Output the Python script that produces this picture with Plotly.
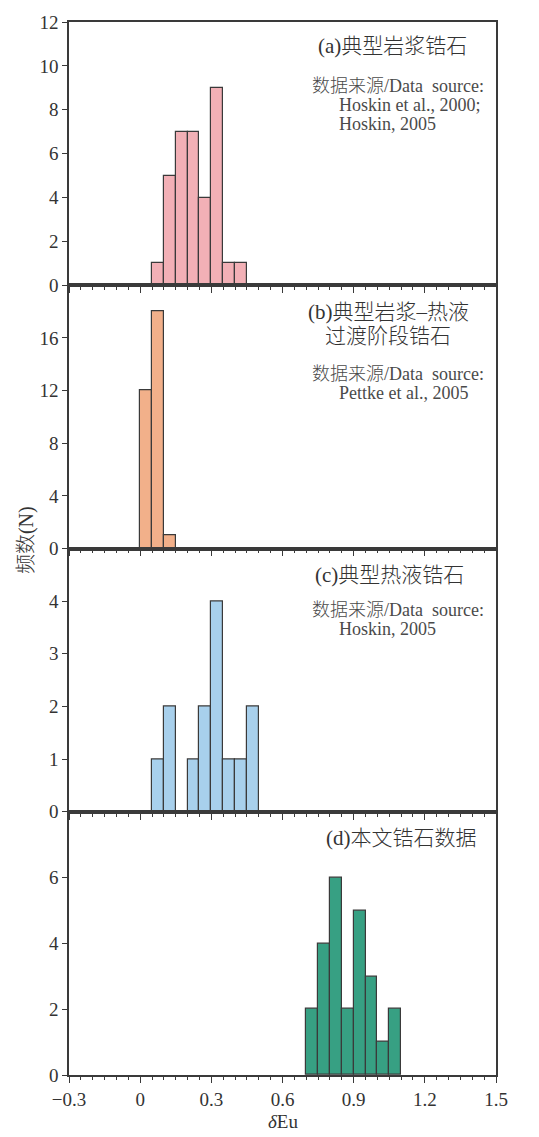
import plotly.graph_objects as go
from plotly.subplots import make_subplots

# δEu histogram bins (left edges) and counts for each zircon group
BIN_WIDTH = 0.05

bins_a = [0.05, 0.10, 0.15, 0.20, 0.25, 0.30, 0.35, 0.40]
counts_a = [1, 5, 7, 7, 4, 9, 1, 1]

bins_b = [0.00, 0.05, 0.10]
counts_b = [12, 18, 1]

bins_c = [0.05, 0.10, 0.20, 0.25, 0.30, 0.35, 0.40, 0.45]
counts_c = [1, 2, 1, 2, 4, 1, 1, 2]

bins_d = [0.70, 0.75, 0.80, 0.85, 0.90, 0.95, 1.00, 1.05]
counts_d = [2, 4, 6, 2, 5, 3, 1, 2]

titles = [["(a)典型岩浆锆石"], ["(b)典型岩浆–热液", "过渡阶段锆石"], ["(c)典型热液锆石"], ["(d)本文锆石数据"]]
sources = [
    ["Hoskin et al., 2000;", "Hoskin, 2005"],
    ["Pettke et al., 2005"],
    ["Hoskin, 2005"],
    [],
]
source_label = "数据来源/Data  source:"

y_ranges = [[0, 12], [0, 20], [0, 5], [0, 8]]
y_ticks = [[0, 2, 4, 6, 8, 10, 12], [0, 4, 8, 12, 16], [0, 1, 2, 3, 4], [0, 2, 4, 6]]

x_range = [-0.3, 1.5]
x_ticks = [-0.3, 0, 0.3, 0.6, 0.9, 1.2, 1.5]

colors = ["#F2B0B6", "#F2B08A", "#A8D0EC", "#37A083"]

W, H = 539, 1137
M_L, M_R, M_T, M_B = 69, 43, 16, 62
LINE = "#3a3a3a"
SERIF = "Liberation Serif, Times New Roman, serif"
CJK = "Liberation Serif, Noto Sans CJK SC, serif"

fig = make_subplots(rows=4, cols=1, shared_xaxes=True, vertical_spacing=0)

series = [(bins_a, counts_a), (bins_b, counts_b), (bins_c, counts_c), (bins_d, counts_d)]
for i, (bins, counts) in enumerate(series):
    fig.add_trace(
        go.Bar(
            x=bins,
            y=counts,
            width=BIN_WIDTH,
            offset=0,
            marker=dict(color=colors[i], line=dict(color=LINE, width=1.2)),
            showlegend=False,
        ),
        row=i + 1,
        col=1,
    )

plot_w = W - M_L - M_R
plot_h = H - M_T - M_B
panel_h = plot_h / 4


def xd(px):
    """pixel column -> data x"""
    return x_range[0] + (px - M_L) / plot_w * (x_range[1] - x_range[0])


def yd(panel, px):
    """pixel row -> fraction of that panel's y domain"""
    top = M_T + panel * panel_h
    return 1 - (px - top) / panel_h


for i in range(4):
    r = i + 1
    fig.update_yaxes(
        range=y_ranges[i],
        tickvals=y_ticks[i],
        ticks="outside",
        ticklen=5,
        tickwidth=1.2,
        tickcolor=LINE,
        showline=True,
        linecolor=LINE,
        linewidth=1.5,
        mirror=True,
        showgrid=False,
        zeroline=False,
        tickfont=dict(family=SERIF, size=19, color="#333333"),
        row=r,
        col=1,
    )
    fig.update_xaxes(
        range=x_range,
        tickvals=x_ticks,
        ticks="outside",
        ticklen=6,
        tickwidth=1.2,
        tickcolor=LINE,
        minor=dict(dtick=BIN_WIDTH, tick0=x_range[0], ticks="outside", ticklen=3,
                   tickwidth=1.2, tickcolor=LINE),
        showline=True,
        linecolor=LINE,
        linewidth=1.5,
        mirror=True,
        showgrid=False,
        zeroline=False,
        showticklabels=(r == 4),
        tickfont=dict(family=SERIF, size=19, color="#333333"),
        row=r,
        col=1,
    )

# panel titles (one annotation per line)
title_rows = [[40], [308, 332], [572], [837]]
title_cx = [392, 388, 389, 401]
for i in range(4):
    yref = "y domain" if i == 0 else f"y{i + 1} domain"
    xref = "x" if i == 0 else f"x{i + 1}"
    for line, row_px in zip(titles[i], title_rows[i]):
        fig.add_annotation(
            x=xd(title_cx[i]), y=yd(i, row_px), xref=xref, yref=yref,
            text=line, showarrow=False, xanchor="center", yanchor="middle",
            font=dict(family=CJK, size=21, color="#333333", weight=300),
        )

# data sources
source_rows = [80, 370, 607]
for i in range(3):
    yref = "y domain" if i == 0 else f"y{i + 1} domain"
    xref = "x" if i == 0 else f"x{i + 1}"
    fig.add_annotation(
        x=xd(486), y=yd(i, source_rows[i]), xref=xref, yref=yref,
        text=source_label, showarrow=False, xanchor="right", yanchor="middle",
        font=dict(family=CJK, size=18, color="#4a4a4a", weight=300),
    )
    for k, line in enumerate(sources[i]):
        fig.add_annotation(
            x=xd(337), y=yd(i, source_rows[i] + 19 + 20 * k), xref=xref, yref=yref,
            text=line, showarrow=False, xanchor="left", yanchor="middle",
            font=dict(family=SERIF, size=18, color="#4a4a4a"),
        )

# axis titles
fig.add_annotation(
    x=(26 - M_L) / plot_w, y=1 - (537 - M_T) / plot_h, xref="paper", yref="paper",
    text="频数(N)", textangle=-90, showarrow=False, xanchor="center", yanchor="middle",
    font=dict(family=CJK, size=20, color="#333333", weight=300),
)
fig.add_annotation(
    x=0.5, y=1 - (1122 - M_T) / plot_h, xref="paper", yref="paper",
    text="<i>δ</i>Eu", showarrow=False, xanchor="center", yanchor="middle",
    font=dict(family=SERIF, size=19, color="#333333"),
)

fig.update_layout(
    width=W,
    height=H,
    margin=dict(l=M_L, r=M_R, t=M_T, b=M_B),
    paper_bgcolor="white",
    plot_bgcolor="white",
    bargap=0,
)

fig.write_html("out.html")
